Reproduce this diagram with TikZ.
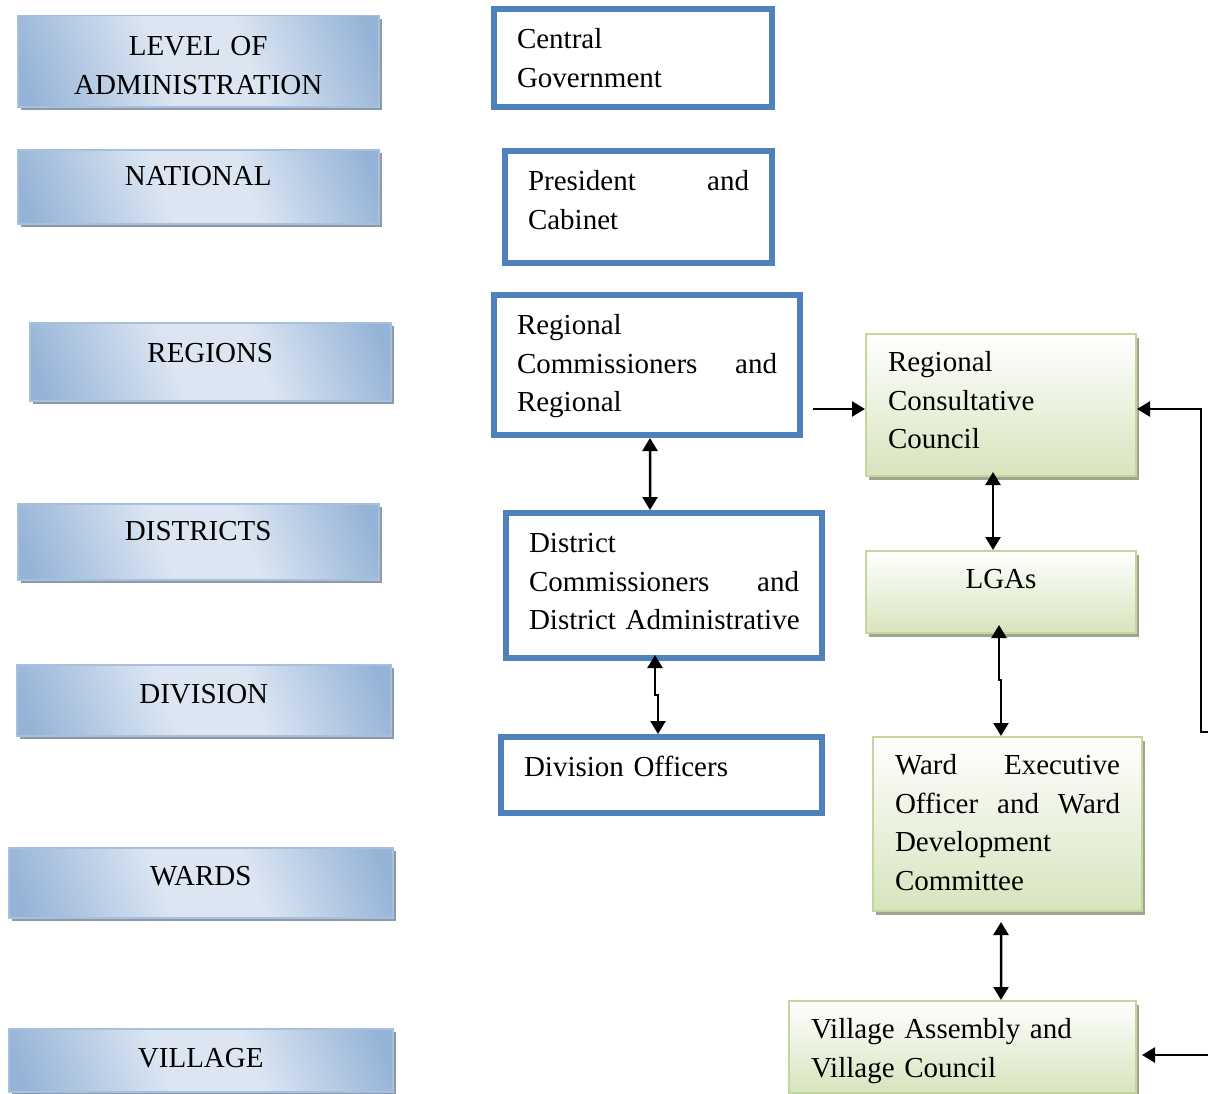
\documentclass[tikz,border=0pt]{standalone}
\usepackage{fontspec}
\setmainfont{Liberation Serif}
\usetikzlibrary{arrows.meta,shadows}
\definecolor{govblue}{HTML}{4F81BD}
\definecolor{lvldark}{HTML}{95B3D7}
\definecolor{lvllight}{HTML}{DCE6F2}
\definecolor{lvlline}{HTML}{A7C0DE}
\definecolor{lvlshadow}{HTML}{8C9AAB}
\definecolor{lgagreen}{HTML}{D7E4BD}
\definecolor{lgaline}{HTML}{C3D69B}
\definecolor{lgashadow}{HTML}{9EA78E}
\pgfdeclarehorizontalshading{lvlshade}{100bp}{color(0bp)=(lvldark); color(20bp)=(lvldark);
  color(44bp)=(lvllight); color(58bp)=(lvllight); color(80bp)=(lvldark); color(100bp)=(lvldark)}
\tikzset{
  lvlbox/.style={draw=lvlline, line width=0.3mm, shade, shading=lvlshade, shading angle=21,
    drop shadow={shadow xshift=0.7mm, shadow yshift=-0.7mm, fill=lvlshadow, opacity=1},
    anchor=north west, inner xsep=0pt, inner ysep=0pt, align=center},
  govbox/.style={draw=govblue, line width=1.2mm, fill=white, anchor=north west,
    inner xsep=4.6mm, inner ysep=0pt, text height=7.9mm, align=left},
  lgabox/.style={draw=lgaline, line width=0.4mm, top color=white, bottom color=lgagreen,
    drop shadow={shadow xshift=0.5mm, shadow yshift=-0.7mm, fill=lgashadow, opacity=1},
    anchor=north west, inner xsep=4.4mm, inner ysep=0pt, text height=7.5mm, align=left},
  conn/.style={->, line width=0.5mm},
  dbl/.style={<->, line width=0.5mm}
}
\begin{document}
\begin{tikzpicture}[x=0.2mm, y=-0.2mm, >={Triangle[length=2.6mm,width=3mm]},
  font=\fontsize{16.5pt}{22pt}\selectfont]
\useasboundingbox (0,0) rectangle (1208,1094);

% levels of administration
\node[lvlbox, text width=72.2mm, text height=8mm, text depth=10.2mm] (lvl) at (17,15) {LEVEL OF\\ADMINISTRATION};
\node[lvlbox, text width=72.2mm, text height=7.2mm, text depth=7.6mm] (nat) at (17,149) {NATIONAL};
\node[lvlbox, text width=72.2mm, text height=7.9mm, text depth=7.7mm] (reg) at (29,322) {REGIONS};
\node[lvlbox, text width=72.2mm, text height=7.4mm, text depth=7.8mm] (dis) at (17,503) {DISTRICTS};
\node[lvlbox, text width=74.8mm, text height=7.7mm, text depth=6.5mm] (dvs) at (16,664) {DIVISION};
\node[lvlbox, text width=76.8mm, text height=7.6mm, text depth=6.4mm] (wrd) at (8,847) {WARDS};
\node[lvlbox, text width=76.8mm, text height=7.7mm, text depth=4.9mm] (vil) at (8,1028) {VILLAGE};

% central government side
\node[govbox, text width=46.4mm, text depth=11.7mm] (cg) at (491,6) {Central\\Government};
\node[govbox, text width=44.2mm, text depth=14.5mm] (pc) at (502,148) {President\hfill and\\Cabinet};
\node[govbox, text width=52mm, text depth=20.1mm] (rcr) at (491,292) {Regional\\Commissioners\hfill and\\Regional};
\node[govbox, text width=54mm, text depth=21.1mm] (dca) at (503,510) {District\\Commissioners\hfill and\\\mbox{District Administrative}};
\node[govbox, text width=55mm, text depth=7.3mm] (div) at (498,734) {Division Officers};

% local government side
\node[lgabox, text width=45.2mm, text depth=20.9mm] (rcc) at (865,333) {Regional\\Consultative\\Council};
\node[lgabox, text width=45.2mm, text depth=8.9mm, align=center] (lga) at (865,550) {LGAs};
\node[lgabox, text width=45mm, text depth=27.3mm] (wec) at (872,736) {Ward\hfill Executive\\Officer\hfill and\hfill Ward\\Development\\Committee};
\node[lgabox, text width=60.6mm, text depth=10.9mm] (vac) at (788,1000) {Village Assembly and\\Village Council};

\coordinate (rccw) at ([yshift=-0.8mm]rcc.west);
\coordinate (fb) at (1208,732);
\coordinate (vin) at (1208,1055);

\draw[conn] (rccw -| rcr.east) ++(10,0) -- (rccw);
\draw[dbl] ([xshift=0.6mm]rcr.south) -- ([xshift=-2.8mm]dca.north);
\draw[dbl] ([shift={(-1.8mm,1.2mm)}]dca.south) -- ++(0,40) -| ([xshift=-0.7mm]div.north);
\draw[dbl] ([shift={(-1.6mm,1mm)}]rcc.south) -- ([xshift=-1.6mm]lga.north);
\draw[dbl] ([shift={(-0.4mm,1.8mm)}]lga.south) -- ++(0,55) -| ([xshift=-1.3mm]wec.north);
\draw[dbl] ([shift={(-1.3mm,-2mm)}]wec.south) -- ([xshift=7.7mm]vac.north);
\draw[conn] (fb) -- ++(-7,0) |- (rcc.east |- rccw);
\draw[conn] (vin) -- ++(-66,0);
\end{tikzpicture}
\end{document}
